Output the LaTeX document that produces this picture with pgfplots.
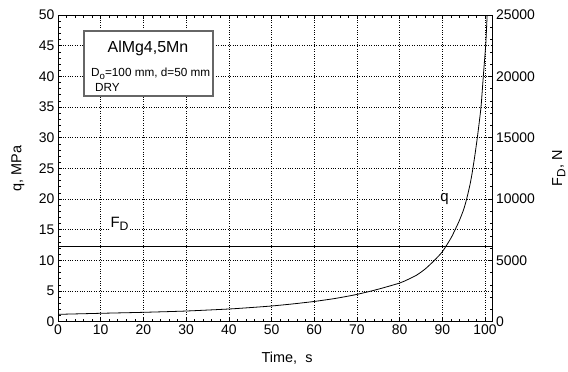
\documentclass[border=0pt]{standalone}
\usepackage{fontspec}
\setmainfont{Liberation Sans}
\usepackage{pgfplots}
\pgfplotsset{compat=1.18}
\newcommand{\sub}[1]{\raisebox{-0.45ex}{\scalebox{0.82}{#1}}}

\pgfplotstableread{
t q
0 1.2
10 1.37
20 1.53
30 1.74
40 2.07
45 2.3
50 2.56
55 2.9
60 3.3
65 3.8
70 4.45
75 5.3
80 6.3
82 6.9
84 7.6
86 8.6
88 9.9
90 11.4
92 13.6
93 15.0
94 16.5
95 18.3
95.7 20.0
96.5 22.4
97 24.3
97.6 27.0
98.2 30.0
98.7 32.8
99.1 35.3
99.6 40.0
100.0 43.6
100.2 45.5
100.5 50
}\qdata

\begin{document}
\begin{tikzpicture}[font=\fontsize{14}{16}\selectfont]
\path[use as bounding box] (-58bp,-50.3bp) rectangle (510bp,321.7bp);
\begin{axis}[
  at={(0,0)}, anchor=south west, scale only axis,
  width=434.7bp, height=306.7bp,
  xmin=0, xmax=101.8, ymin=0, ymax=50,
  xtick={0,10,...,100}, ytick={0,5,...,50},
  minor x tick num=4, minor y tick num=4,
  ytick pos=left,
  tick align=inside,
  major tick length=4bp, minor tick length=2.5bp,
  axis line style={line width=0.8pt},
  every tick/.style={black, line width=0.6pt},
  tick label style={font=\fontsize{14}{16}\selectfont},
  label style={font=\fontsize{14.5}{16}\selectfont},
  grid=major,
  major grid style={black, dotted, line width=0.6pt},
  /pgf/number format/assume math mode=true,
  xlabel={Time,\ \ s}, ylabel={q, MPa},
  xlabel style={at={(axis description cs:0.527,-0.118)}, anchor=center},
  ylabel style={at={(axis description cs:-0.092,0.5)}, anchor=center},
]
\addplot[black, line width=0.8pt, smooth, tension=0.4] table[x=t, y=q] {\qdata};
\node[fill=white, inner sep=1.5bp, font=\fontsize{15}{17}\selectfont] at (axis cs:90.5,20) {q};
\node[fill=white, inner sep=1.5bp, anchor=base west, font=\fontsize{15}{17}\selectfont] at (axis cs:11.9,15.4) {F\sub{D}};
\draw[draw=black!60, line width=1.6bp, fill=white] (rel axis cs:0.06,0.948) rectangle (rel axis cs:0.357,0.736);
\node[anchor=base, font=\fontsize{16}{18}\selectfont] at (rel axis cs:0.207,0.879) {AlMg4,5Mn};
\node[anchor=base west, inner sep=0pt, font=\fontsize{11.8}{13}\selectfont] at (rel axis cs:0.076,0.798) {D\sub{o}=100 mm, d=50 mm};
\node[anchor=base west, inner sep=0pt, font=\fontsize{11.8}{13}\selectfont] at (rel axis cs:0.085,0.751) {DRY};
\end{axis}
\begin{axis}[
  at={(0,0)}, anchor=south west, scale only axis,
  width=434.7bp, height=306.7bp,
  xmin=0, xmax=101.8, ymin=0, ymax=25000,
  axis x line=none, axis y line*=right,
  ytick={0,5000,...,25000}, minor y tick num=4,
  tick align=inside,
  major tick length=4bp, minor tick length=2.5bp,
  axis line style={line width=0.8pt},
  every tick/.style={black, line width=0.6pt},
  tick label style={font=\fontsize{14}{16}\selectfont},
  label style={font=\fontsize{14.5}{16}\selectfont},
  scaled y ticks=false,
  yticklabel style={/pgf/number format/.cd, fixed, 1000 sep={}, assume math mode=true},
  ylabel={F\sub{D}, N},
  ylabel style={at={(axis description cs:1.152,0.5)}, anchor=center},
]
\addplot[black, line width=0.8pt] coordinates {(0,6150) (101.8,6150)};
\end{axis}
\end{tikzpicture}
\end{document}
